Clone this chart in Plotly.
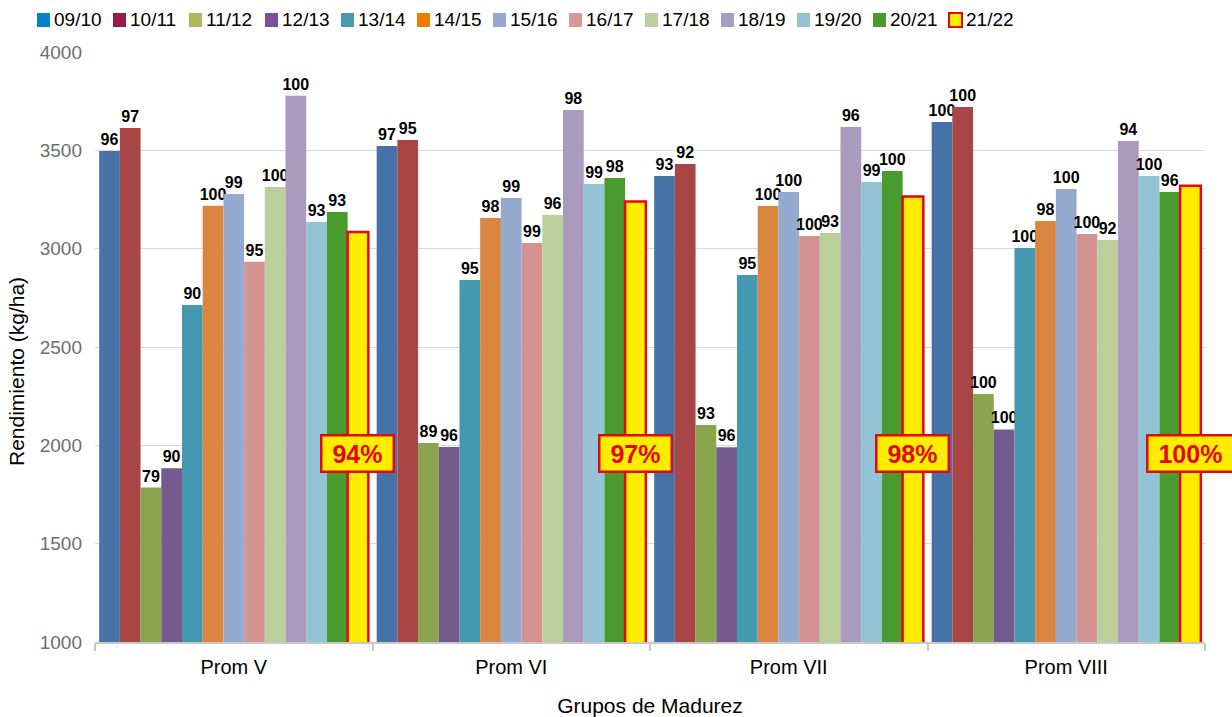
import plotly.graph_objects as go

# Maturity groups on the x axis
groups = ["Prom V", "Prom VI", "Prom VII", "Prom VIII"]

# Campaigns (one bar per campaign inside each group)
seasons = ["09/10", "10/11", "11/12", "12/13", "13/14", "14/15", "15/16",
           "16/17", "17/18", "18/19", "19/20", "20/21", "21/22"]

# Yield (kg/ha) per campaign, ordered as groups
y_0910 = [3497, 3522, 3369, 3644]
y_1011 = [3614, 3553, 3430, 3720]
y_1112 = [1785, 2012, 2103, 2261]
y_1213 = [1883, 1991, 1990, 2081]
y_1314 = [2713, 2841, 2866, 3003]
y_1415 = [3218, 3156, 3217, 3141]
y_1516 = [3278, 3258, 3288, 3303]
y_1617 = [2934, 3029, 3064, 3075]
y_1718 = [3314, 3171, 3080, 3044]
y_1819 = [3778, 3705, 3619, 3547]
y_1920 = [3136, 3329, 3339, 3369]
y_2021 = [3186, 3359, 3395, 3288]
y_2122 = [3085, 3240, 3265, 3320]

# Relative yield (%) printed above each bar
p_0910 = [96, 97, 93, 100]
p_1011 = [97, 95, 92, 100]
p_1112 = [79, 89, 93, 100]
p_1213 = [90, 96, 96, 100]
p_1314 = [90, 95, 95, 100]
p_1415 = [100, 98, 100, 98]
p_1516 = [99, 99, 100, 100]
p_1617 = [95, 99, 100, 100]
p_1718 = [100, 96, 93, 92]
p_1819 = [100, 98, 96, 94]
p_1920 = [93, 99, 99, 100]
p_2021 = [93, 98, 100, 96]
p_2122 = [94, 97, 98, 100]

yields = [y_0910, y_1011, y_1112, y_1213, y_1314, y_1415, y_1516,
          y_1617, y_1718, y_1819, y_1920, y_2021, y_2122]
pcts = [p_0910, p_1011, p_1112, p_1213, p_1314, p_1415, p_1516,
        p_1617, p_1718, p_1819, p_1920, p_2021, p_2122]

bar_colors = ["#4672A8", "#A94545", "#8BA54F", "#745A8F", "#4499B0", "#DA8640",
              "#95AACF", "#D29392", "#BBCF9B", "#A99ABE", "#95C3D6", "#4A9B2D",
              "#FFED00"]
key_colors = ["#0083C9", "#9B1B47", "#B3B55F", "#7F4F97", "#449BB0", "#F07B00",
              "#95A9D1", "#D39A96", "#BBD09E", "#A99CC3", "#95C3D6", "#4B9A2E",
              "#FFED00"]
RED = "#E30613"

W, H = 1232, 717
ML, MR, MT, MB = 95, 27, 52, 75
BARGAP = 0.03
FONT = "Liberation Sans, Arial, Helvetica, sans-serif"

fig = go.Figure()
last = len(seasons) - 1
for i, s in enumerate(seasons):
    is_last = i == last
    fig.add_trace(go.Bar(
        name=s, x=groups, y=yields[i],
        text=None if is_last else [str(v) for v in pcts[i]],
        textposition="outside", textangle=0, constraintext="none", cliponaxis=False,
        textfont=dict(family=FONT, size=16, color="#000000", weight="bold"),
        marker=dict(color=bar_colors[i],
                    line=dict(color=RED if is_last else bar_colors[i],
                              width=2.5 if is_last else 0)),
        showlegend=False,
    ))

# Percentage boxes over the 2021/22 bars
n = len(seasons)
bw = (1 - BARGAP) / n
off_last = -(1 - BARGAP) / 2 + (last + 0.5) * bw
for g, p in enumerate(p_2122):
    fig.add_annotation(
        x=g + off_last, y=1960, xref="x", yref="y", text=f"<b> {p}% </b>",
        showarrow=False, font=dict(family=FONT, size=25, color=RED),
        bgcolor="#FFED00", bordercolor=RED, borderwidth=2.5, borderpad=3,
    )

# Key along the top edge
pw, ph = W - ML - MR, H - MT - MB
def px_x(v):
    return (v - ML) / pw
def px_y(v):
    return (H - MB - v) / ph

for i, s in enumerate(seasons):
    x0 = 37 + 76 * i
    is_last = i == last
    fig.add_shape(type="rect", xref="paper", yref="paper",
                  x0=px_x(x0), x1=px_x(x0 + 13), y0=px_y(27), y1=px_y(13),
                  fillcolor=key_colors[i],
                  line=dict(color=RED if is_last else key_colors[i],
                            width=2 if is_last else 0))
    fig.add_annotation(x=px_x(x0 + 15), y=px_y(20), xref="paper", yref="paper",
                       text=s, showarrow=False, xanchor="left", yanchor="middle",
                       font=dict(family=FONT, size=19, color="#000000"))

# Y axis title, set slightly below the middle of the plot
fig.add_annotation(x=px_x(16), y=px_y(372), xref="paper", yref="paper",
                   text="Rendimiento (kg/ha)", textangle=-90, showarrow=False,
                   xanchor="center", yanchor="middle",
                   font=dict(family=FONT, size=21, color="#000000"))

fig.update_layout(
    width=W, height=H,
    margin=dict(l=ML, r=MR, t=MT, b=MB, autoexpand=False),
    paper_bgcolor="white", plot_bgcolor="white",
    barmode="group", bargap=BARGAP, bargroupgap=0,
    showlegend=False,
    font=dict(family=FONT, color="#000000"),
)
fig.update_xaxes(
    type="category", automargin=False, range=[-0.5, len(groups) - 0.5],
    showline=True, linecolor="#C8C8C8", linewidth=1.5,
    ticks="outside", tickson="boundaries", ticklen=7, tickcolor="#C8C8C8", tickwidth=1.5,
    ticklabelstandoff=6,
    tickfont=dict(family=FONT, size=20, color="#000000"),
    title=dict(text="Grupos de Madurez", font=dict(family=FONT, size=21, color="#000000"),
               standoff=26),
    showgrid=False,
)
fig.update_yaxes(
    automargin=False,
    range=[1000, 4000], tickvals=[1000, 1500, 2000, 2500, 3000, 3500, 4000],
    showgrid=True, gridcolor="#D9D9D9", gridwidth=1.2, zeroline=False, showline=False,
    ticks="", ticklabelstandoff=12,
    tickfont=dict(family=FONT, size=19, color="#6E6E6E"),
)

fig.write_html("out.html")
